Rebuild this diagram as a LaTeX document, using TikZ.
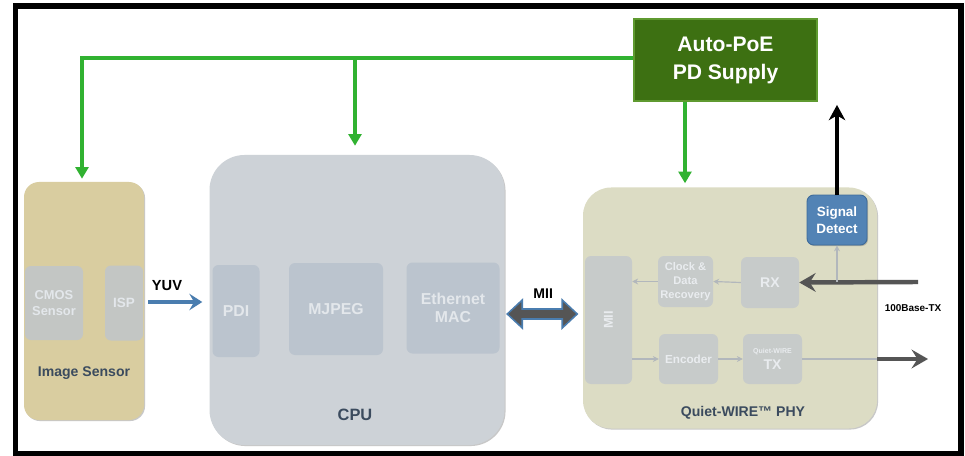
\documentclass[tikz,border=0pt]{standalone}
\usepackage{fontspec}
\setmainfont{Liberation Sans}
\usetikzlibrary{arrows.meta,calc,shadows}
\definecolor{tanc}{HTML}{D9CDA0}
\definecolor{cpuc}{HTML}{CDD2D7}
\definecolor{phyc}{HTML}{DCDCC4}
\definecolor{innc}{HTML}{BBC4CE}
\definecolor{inntan}{HTML}{C3C6C4}
\definecolor{innphy}{HTML}{C7CBCA}
\definecolor{inntxt}{HTML}{E3E7EB}
\definecolor{lblc}{HTML}{3B4B5E}
\definecolor{gline}{HTML}{31B231}
\definecolor{poefill}{HTML}{3D7012}
\definecolor{poeedge}{HTML}{5F9A30}
\definecolor{sigfill}{HTML}{5283B5}
\definecolor{sigedge}{HTML}{3E6B9A}
\definecolor{yuvc}{HTML}{4A7DAF}
\definecolor{darkc}{HTML}{555555}
\definecolor{faintc}{HTML}{B2B7BC}
\tikzset{
  sz/.style 2 args={minimum width=#1*0.03cm, minimum height=#2*0.03cm},
  outerbox/.style={inner sep=0pt, draw=none, drop shadow={shadow xshift=0.9pt,shadow yshift=-0.9pt,opacity=0.3,fill=black!70}},
  innerbox/.style={inner sep=0pt, rounded corners=0.18cm, draw=none, fill=innc, text=inntxt, align=center, font=\bfseries\fontsize{13.5}{15}\selectfont},
  phyinner/.style={innerbox, fill=innphy, text=inntxt!80!white, font=\bfseries\fontsize{9.5}{12}\selectfont},
  lbl/.style={text=lblc, font=\bfseries\fontsize{12}{14}\selectfont, inner sep=0pt},
  greenline/.style={draw=gline, line width=2.8pt, -{Triangle[length=10pt,width=11pt]}},
  darkarrow/.style={draw=darkc, line width=3.8pt, -{Stealth[length=14pt,width=16pt,inset=5pt]}},
  faintarrow/.style={draw=faintc, line width=1pt, -{Stealth[length=5pt,width=5pt]}},
}
\begin{document}
\begin{tikzpicture}[x=0.03cm,y=-0.03cm, font=\bfseries]
\useasboundingbox (0,0) rectangle (965,456);
\fill[white] (0,0) rectangle (965,456);
\draw[line width=5.1pt] (15.5,6) rectangle (960.5,454);

% Image sensor
\node[outerbox, sz={120}{238}, rounded corners=0.45cm, fill=tanc] (imgs) at (84,301) {};
\node[innerbox, fill=inntan, sz={58}{74}, font=\bfseries\fontsize{11}{13}\selectfont] (cmos) at (54,303) {CMOS\\Sensor};
\node[innerbox, fill=inntan, sz={38}{75}, font=\bfseries\fontsize{11.5}{13}\selectfont] (isp) at (124,303) {ISP};
\node[lbl] (imgl) at (84,373) {Image Sensor};

% CPU
\node[outerbox, sz={295}{290}, rounded corners=1.05cm, fill=cpuc] (cpu) at (357,300) {};
\node[innerbox, sz={47}{92}] (pdi) at (236,311) {PDI};
\node[innerbox, sz={94}{92}] (mjpeg) at (336,309) {MJPEG};
\node[innerbox, sz={93}{91}] (mac) at (453,308) {Ethernet\\MAC};
\node[lbl, font=\bfseries\fontsize{14}{16}\selectfont] (cpul) at (355,415) {CPU};

% PHY
\node[outerbox, sz={294}{241}, rounded corners=0.84cm, fill=phyc] (phy) at (730,308) {};
\node[phyinner, sz={47}{128}] (pmii) at (608.5,320) {\rotatebox{90}{\fontsize{11}{13}\selectfont MII}};
\node[phyinner, sz={55}{51}] (cdr) at (685.5,281.5) {Clock \&\\Data\\Recovery};
\node[phyinner, sz={58}{51}, font=\bfseries\fontsize{12}{14}\selectfont] (rx) at (770,282.5) {RX};
\node[phyinner, sz={59}{50}, font=\bfseries\fontsize{10}{12}\selectfont] (enc) at (688.5,359) {Encoder};
\node[phyinner, sz={59}{50}, font=\bfseries\fontsize{12}{13}\selectfont] (tx) at (772.5,359) {{\fontsize{6}{7}\selectfont Quiet-WIRE}\\[1pt]TX};
\node[outerbox, sz={60}{50}, rounded corners=0.2cm, fill=sigfill, draw=sigedge, line width=0.8pt, text=white, align=center, font=\bfseries\fontsize{11.5}{15}\selectfont] (sig) at (837,220) {Signal\\Detect};
\node[lbl] (phyl) at (743,413) {Quiet-WIRE™ PHY};

% PoE supply
\node[outerbox, sz={183}{82}, fill=poefill, draw=poeedge, line width=1.6pt, text=white, align=center, font=\bfseries\fontsize{18}{24}\selectfont] (poe) at (725.5,60) {Auto-PoE\\PD Supply};

% green supply lines
\coordinate (gl) at (82,58);
\coordinate (gm) at (355,58);
\coordinate (gp) at (685,60);
\draw[greenline] ($(poe.west)+(0,-2)$) -- (gl) -- ($(gl |- imgs.north)+(0,-3)$);
\draw[greenline] (gm) -- ($(gm |- cpu.north)+(0,-9)$);
\draw[greenline] (gp |- poe.south) -- ($(gp |- phy.north)+(0,-4)$);

% signal detect to PoE
\draw[black, line width=3.2pt, -{Stealth[length=13pt,width=14pt,inset=4pt]}] (sig.north) -- ($(sig.north |- poe.south)+(0,3)$);

% YUV
\draw[yuvc, line width=3.2pt, -{Stealth[length=11pt,width=14pt,inset=4pt]}] ($(imgs.east)+(4,1)$) -- ($(cpu.west)+(-7,2)$);
\node[font=\bfseries\fontsize{12.5}{14}\selectfont, inner sep=0pt] (yuvl) at (167,286) {YUV};

% MII double arrow
\coordinate (mc) at ($(mac.east)!0.5!(pmii.west)$);
\draw[fill=darkc, draw=yuvc, line width=1.3pt, shift={(mc)}]
  (-35,0) -- (-20,-14) -- (-20,-5) -- (20,-5) -- (20,-14) -- (35,0) -- (20,14) -- (20,5) -- (-20,5) -- (-20,14) -- cycle;
\node[font=\bfseries\fontsize{12}{14}\selectfont, inner sep=0pt] (miil) at ($(mc)+(1,-20)$) {MII};

% PHY internal paths
\coordinate (rin) at (918,282);
\coordinate (tap) at (837,282);
\coordinate (pedge) at (877,359);
\coordinate (tout) at (928,359);
\draw[darkarrow] (rin) -- (rx.east);
\draw[faintarrow] (tap) -- (sig.south);
\draw[faintc, line width=1.6pt] (tx.east) -- (pedge);
\draw[darkarrow] (pedge) -- (tout);
\draw[faintarrow] (rx.west) -- (cdr.east);
\draw[faintarrow] (cdr.west) -- (pmii.east |- cdr.west);
\draw[faintarrow] (pmii.east |- enc.west) -- (enc.west);
\draw[faintarrow] (enc.east) -- (tx.west);
\node[font=\bfseries\fontsize{8.5}{10}\selectfont, inner sep=0pt] (base) at (913,308) {100Base-TX};
\end{tikzpicture}
\end{document}
